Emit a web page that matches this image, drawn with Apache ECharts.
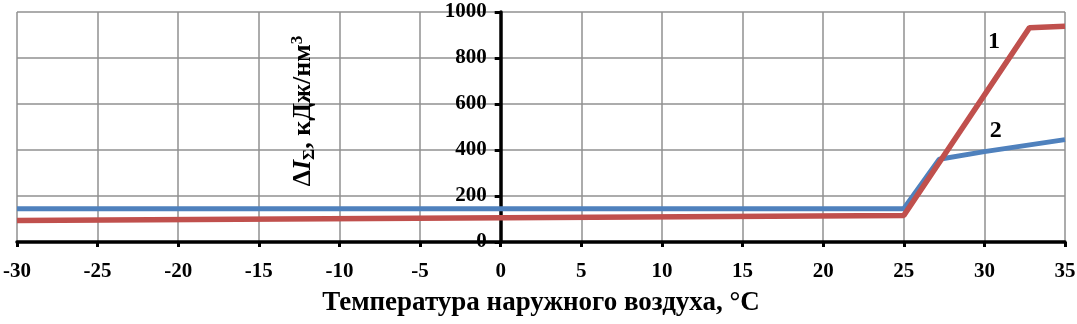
<!DOCTYPE html>
<html><head><meta charset="utf-8">
<script src="https://cdn.jsdelivr.net/npm/echarts@6/dist/echarts.min.js"></script>
<style>html,body{margin:0;padding:0;background:#fff}#c{width:1077px;height:324px}</style>
</head><body><div id="c"></div>
<script>
const xTicks = [-30,-25,-20,-15,-10,-5,0,5,10,15,20,25,30,35];
const yTicks = [0,200,400,600,800,1000];
const redX = [-30, 25, 32.8, 35];
const redY = [93, 115, 932, 938];
const blueX = [-30, 25, 27.2, 30, 35];
const blueY = [145, 145, 360, 393, 445];
const seriesNames = ['1', '2'];

const zip = (xs, ys) => xs.map((x, i) => [x, ys[i]]);
const font = '"Liberation Serif", "Times New Roman", serif';
const gridLeft = 17;
const chart = echarts.init(document.getElementById('c'), null, {renderer: 'canvas'});
chart.setOption({
  animation: false,
  backgroundColor: '#fff',
  grid: {left: gridLeft, right: 12, top: 12, bottom: 82, containLabel: false, outerBoundsMode: 'none'},
  xAxis: {
    type: 'value', min: xTicks[0], max: xTicks[xTicks.length - 1], interval: 5,
    axisLine: {show: true, onZero: false, lineStyle: {color: '#000', width: 3.5}},
    axisTick: {show: true, length: 5, lineStyle: {color: '#000', width: 3}},
    axisLabel: {color: '#000', fontFamily: font, fontWeight: 'bold', fontSize: 21, margin: 19},
    splitLine: {show: true, lineStyle: {color: '#909090', width: 1.5}},
    name: 'Температура наружного воздуха, °C',
    nameLocation: 'middle', nameGap: 48,
    nameTextStyle: {color: '#000', fontFamily: font, fontWeight: 'bold', fontSize: 27}
  },
  yAxis: {
    type: 'value', min: yTicks[0], max: yTicks[yTicks.length - 1], interval: 200,
    axisLine: {show: true, onZero: false, lineStyle: {color: '#000', width: 3.5}},
    axisTick: {show: true, length: 6, lineStyle: {color: '#000', width: 3}},
    axisLabel: {color: '#000', fontFamily: font, fontWeight: 'bold', fontSize: 21, margin: 14, formatter: v => String(v)},
    splitLine: {show: true, lineStyle: {color: '#909090', width: 1.5}},
    name: '{b|Δ}{i|I}{s|Σ}{b|, кДж/нм}{p|3}',
    nameLocation: 'middle', nameRotate: 90, nameGap: 183,
    nameTextStyle: {
      color: '#000', fontFamily: font, fontWeight: 'bold', fontSize: 26,
      padding: [0, 0, 0, 32],
      rich: {
        b: {fontFamily: font, fontWeight: 'bold', fontSize: 26, color: '#000'},
        i: {fontFamily: font, fontWeight: 'bold', fontStyle: 'italic', fontSize: 26, color: '#000'},
        s: {fontFamily: font, fontWeight: 'bold', fontSize: 17, color: '#000', padding: [12, 0, 0, 0]},
        p: {fontFamily: font, fontWeight: 'bold', fontSize: 17, color: '#000', padding: [0, 0, 12, 0]}
      }
    }
  },
  series: [
    {
      name: seriesNames[0], type: 'line', data: zip(redX, redY), symbol: 'none',
      lineStyle: {color: '#C0504D', width: 5.5}, z: 3,
      markPoint: {
        symbol: 'circle', symbolSize: 0,
        label: {show: true, formatter: seriesNames[0], color: '#000', fontFamily: font, fontWeight: 'bold', fontSize: 24},
        data: [{coord: [30.6, 870]}]
      }
    },
    {
      name: seriesNames[1], type: 'line', data: zip(blueX, blueY), symbol: 'none',
      lineStyle: {color: '#4F81BD', width: 5}, z: 2,
      markPoint: {
        symbol: 'circle', symbolSize: 0,
        label: {show: true, formatter: seriesNames[1], color: '#000', fontFamily: font, fontWeight: 'bold', fontSize: 24},
        data: [{coord: [30.7, 482]}]
      }
    }
  ]
});
// move the y axis (line, ticks, labels, name) to x = 0 using the library's own scale
const zeroPx = chart.convertToPixel({xAxisIndex: 0}, 0);
chart.setOption({yAxis: {offset: -(zeroPx - gridLeft)}});
</script></body></html>
